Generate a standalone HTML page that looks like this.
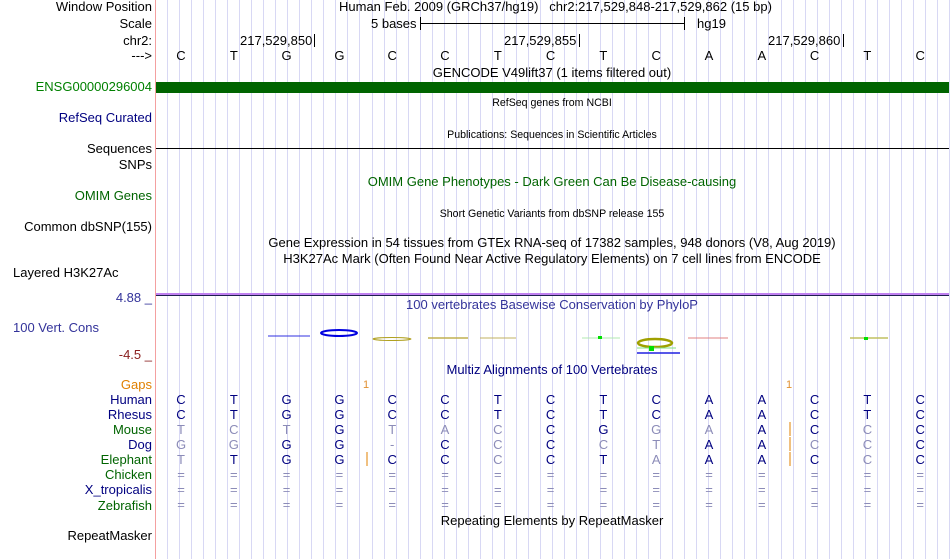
<!DOCTYPE html>
<html><head><meta charset="utf-8"><style>
body{margin:0;width:950px;height:559px;background:#fff;position:relative;overflow:hidden;font-family:"Liberation Sans",sans-serif;font-size:13px;}
.a{position:absolute;white-space:nowrap;line-height:14px;}
.r{text-align:right;width:152px;left:0;}
.c{transform:translateX(-50%);}
.s{font-size:10.6px;}
.g{position:absolute;top:0;width:1px;height:559px;background:#d8d8f4;}
</style></head><body>
<div id="grid"></div>
<div style="position:absolute;left:155px;top:0;width:1px;height:559px;background:#f4a0a0"></div>

<div class="a r" style="top:0">Window Position</div>
<div class="a r" style="top:17px">Scale</div>
<div class="a r" style="top:34px">chr2:</div>
<div class="a r" style="top:49px">---&gt;</div>
<div class="a r" style="top:80px;color:#008000">ENSG00000296004</div>
<div class="a r" style="top:111px;color:#000080">RefSeq Curated</div>
<div class="a r" style="top:142px">Sequences</div>
<div class="a r" style="top:158px">SNPs</div>
<div class="a r" style="top:189px;color:#006400">OMIM Genes</div>
<div class="a r" style="top:220px">Common dbSNP(155)</div>
<div class="a" style="top:266px;left:13px">Layered H3K27Ac</div>
<div class="a r" style="top:291px;color:#33339a">4.88 _</div>
<div class="a" style="top:321px;left:13px;color:#33339a">100 Vert. Cons</div>
<div class="a r" style="top:348px;color:#8b2020">-4.5 _</div>
<div class="a r" style="top:378px;color:#e08000">Gaps</div>
<div class="a r" style="top:393px;color:#000080">Human</div>
<div class="a r" style="top:408px;color:#000080">Rhesus</div>
<div class="a r" style="top:423px;color:#006400">Mouse</div>
<div class="a r" style="top:438px;color:#000080">Dog</div>
<div class="a r" style="top:453px;color:#006400">Elephant</div>
<div class="a r" style="top:468px;color:#006400">Chicken</div>
<div class="a r" style="top:483px;color:#000080">X_tropicalis</div>
<div class="a r" style="top:499px;color:#006400">Zebrafish</div>
<div class="a r" style="top:529px">RepeatMasker</div>

<div class="a" style="top:0;left:339px">Human Feb. 2009 (GRCh37/hg19)&nbsp;&nbsp; chr2:217,529,848-217,529,862 (15 bp)</div>
<div class="a" style="top:17px;left:371px">5 bases</div>
<div style="position:absolute;left:420px;top:23px;width:265px;height:1px;background:#000"></div>
<div style="position:absolute;left:420px;top:17px;width:1px;height:13px;background:#000"></div>
<div style="position:absolute;left:684px;top:17px;width:1px;height:13px;background:#000"></div>
<div class="a" style="top:17px;left:697px">hg19</div>
<div class="a" style="top:34px;left:240px">217,529,850</div>
<div style="position:absolute;left:314px;top:34px;width:1px;height:13px;background:#000"></div>
<div class="a" style="top:34px;left:504px">217,529,855</div>
<div style="position:absolute;left:579px;top:34px;width:1px;height:13px;background:#000"></div>
<div class="a" style="top:34px;left:768px">217,529,860</div>
<div style="position:absolute;left:843px;top:34px;width:1px;height:13px;background:#000"></div>
<div id="bases"></div>
<div class="a c" style="top:66px;left:552px">GENCODE V49lift37 (1 items filtered out)</div>
<div style="position:absolute;left:156px;top:82px;width:793px;height:11px;background:#006400"></div>
<div class="a c s" style="top:96px;left:552px">RefSeq genes from NCBI</div>
<div class="a c s" style="top:128px;left:552px">Publications: Sequences in Scientific Articles</div>
<div style="position:absolute;left:156px;top:148px;width:793px;height:1px;background:#000"></div>
<div class="a c" style="top:175px;left:552px;color:#006400">OMIM Gene Phenotypes - Dark Green Can Be Disease-causing</div>
<div class="a c s" style="top:207px;left:552px">Short Genetic Variants from dbSNP release 155</div>
<div class="a c" style="top:236px;left:552px">Gene Expression in 54 tissues from GTEx RNA-seq of 17382 samples, 948 donors (V8, Aug 2019)</div>
<div class="a c" style="top:252px;left:552px">H3K27Ac Mark (Often Found Near Active Regulatory Elements) on 7 cell lines from ENCODE</div>
<div style="position:absolute;left:156px;top:293px;width:793px;height:2px;background:#c080f0"></div>
<div style="position:absolute;left:156px;top:295px;width:793px;height:1px;background:#202050"></div>
<div class="a c" style="top:298px;left:552px;color:#33339a">100 vertebrates Basewise Conservation by PhyloP</div>
<svg style="position:absolute;left:0;top:0" width="950" height="559">
<line x1="268" y1="336" x2="310" y2="336" stroke="#3030e0" stroke-width="1"/>
<ellipse cx="339" cy="333" rx="18" ry="3" fill="none" stroke="#0000e0" stroke-width="2"/>
<ellipse cx="392" cy="339" rx="19" ry="1.5" fill="none" stroke="#b0a020" stroke-width="1"/>
<line x1="428" y1="338" x2="468" y2="338" stroke="#c0b050" stroke-width="1.5"/>
<line x1="480" y1="338" x2="516" y2="338" stroke="#c0b060" stroke-width="1"/>
<line x1="582" y1="338" x2="620" y2="338" stroke="#b0e8b0" stroke-width="1"/>
<rect x="598" y="336" width="4" height="3" fill="#00e000"/>
<ellipse cx="655" cy="343" rx="17" ry="4" fill="none" stroke="#a0a000" stroke-width="2.5"/>
<line x1="637" y1="348" x2="676" y2="348" stroke="#80e080" stroke-width="1"/>
<rect x="649" y="346" width="5" height="5" fill="#00e000"/>
<line x1="637" y1="353" x2="680" y2="353" stroke="#2020e0" stroke-width="1.5"/>
<line x1="688" y1="338" x2="728" y2="338" stroke="#e08080" stroke-width="1"/>
<line x1="850" y1="338" x2="888" y2="338" stroke="#c0c060" stroke-width="1.5"/>
<rect x="864" y="337" width="4" height="3" fill="#00e000"/>
<line x1="367" y1="452" x2="367" y2="466" stroke="#e08000"/>
<line x1="790" y1="422" x2="790" y2="436" stroke="#e08000"/>
<line x1="790" y1="437" x2="790" y2="451" stroke="#e08000"/>
<line x1="790" y1="452" x2="790" y2="466" stroke="#e08000"/>
</svg>
<div class="a c" style="top:363px;left:552px;color:#000080">Multiz Alignments of 100 Vertebrates</div>
<div class="a c" style="top:378px;left:366px;color:#e09030;font-size:11px">1</div>
<div class="a c" style="top:378px;left:789px;color:#e09030;font-size:11px">1</div>
<div id="aln"></div>
<div class="a c" style="top:514px;left:552px">Repeating Elements by RepeatMasker</div>
<script>
var h='';for(var x=167;x<950;x+=12.03)h+='<div class="g" style="left:'+Math.round(x)+'px"></div>';
document.getElementById('grid').innerHTML=h;
var xs=[];for(var i=0;i<15;i++)xs.push(181+i*52.8);
var hum='CTGGCCTCTCAACTC';
var b='';for(i=0;i<15;i++)b+='<div class="a c" style="top:49px;left:'+xs[i]+'px">'+hum[i]+'</div>';
document.getElementById('bases').innerHTML=b;
var rows=[[hum,'ddddddddddddddd'],[hum,'ddddddddddddddd'],
['TCTGTACCGGAACCC','llldlllddllddld'],
['GGGG-CCCCTAACCC','llddldldllddlld'],
['TTGGCCCCTAAACCC','ldddddlddldddld'],
['===============','lllllllllllllll'],['===============','lllllllllllllll'],['===============','lllllllllllllll']];
var a='';for(var r=0;r<rows.length;r++)for(i=0;i<15;i++){a+='<div class="a c" style="top:'+(393+r*15)+'px;left:'+xs[i]+'px;color:'+(rows[r][1][i]=='d'?'#000080':'#8c8cb8')+'">'+rows[r][0][i]+'</div>';}
document.getElementById('aln').innerHTML=a;
</script>
</body></html>
